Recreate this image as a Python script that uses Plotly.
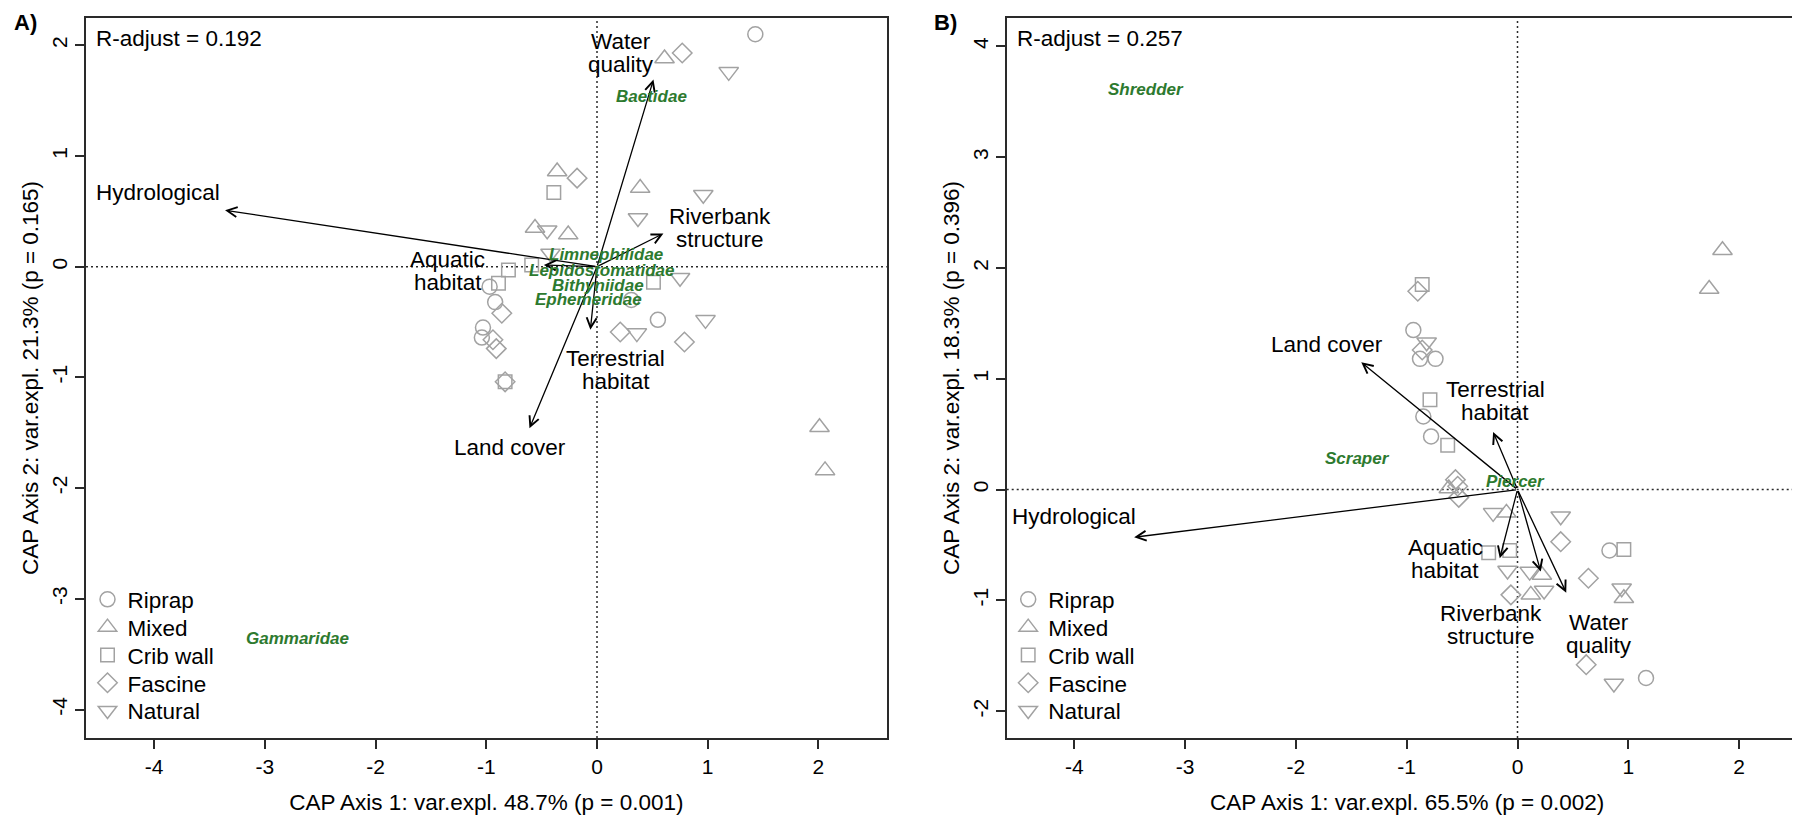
import plotly.graph_objects as go

W, H = 1800, 815
FONT = "Liberation Sans, Arial, sans-serif"

# ---------------- data ----------------
treatments = ["Riprap", "Mixed", "Crib wall", "Fascine", "Natural"]

# Panel A: site scores
a_riprap_x = [1.43, -0.97, -0.92, 0.31, 0.55, -1.03, -1.04]
a_riprap_y = [2.10, -0.18, -0.32, -0.30, -0.48, -0.55, -0.64]
a_mixed_x = [0.61, -0.36, 0.39, -0.56, -0.26, 2.01, 2.06]
a_mixed_y = [1.88, 0.86, 0.71, 0.35, 0.29, -1.45, -1.84]
a_crib_x = [-0.39, -0.80, -0.59, -0.89, 0.51, -0.83]
a_crib_y = [0.67, -0.03, 0.015, -0.15, -0.14, -1.04]
a_fascine_x = [0.77, -0.18, -0.86, -0.94, -0.91, -0.83, 0.21, 0.79]
a_fascine_y = [1.93, 0.80, -0.42, -0.66, -0.74, -1.04, -0.59, -0.68]
a_natural_x = [1.19, 0.37, 0.96, -0.45, -0.42, 0.75, 0.98, 0.36]
a_natural_y = [1.76, 0.44, 0.65, 0.33, 0.12, -0.10, -0.48, -0.60]

# Panel A: environmental vectors
a_env = ["Water\nquality", "Hydrological", "Riverbank\nstructure",
         "Aquatic\nhabitat", "Terrestrial\nhabitat", "Land cover"]
a_arrow_x = [0.51, -3.36, 0.60, -0.48, -0.06, -0.61]
a_arrow_y = [1.69, 0.51, 0.30, 0.015, -0.57, -1.46]
a_label_x = [0.22, -3.97, 1.11, -1.35, 0.17, -0.79]
a_label_y = [1.93, 0.67, 0.35, -0.04, -0.93, -1.63]

# Panel A: taxa
a_taxa = ["Baetidae", "Limnephilidae", "Lepidostomatidae", "Bithyniidae",
          "Ephemeridae", "Gammaridae"]
a_taxa_x = [0.49, 0.08, 0.04, 0.01, -0.08, -2.71]
a_taxa_y = [1.54, 0.11, -0.03, -0.17, -0.30, -3.36]

# Panel B: site scores
b_riprap_x = [-0.94, -0.88, -0.74, -0.85, -0.78, 0.83, 1.16]
b_riprap_y = [1.44, 1.18, 1.18, 0.66, 0.48, -0.55, -1.70]
b_mixed_x = [1.85, 1.73, -0.62, -0.10, 0.22, 0.12, 0.96]
b_mixed_y = [2.16, 1.81, 0.01, -0.21, -0.77, -0.95, -0.98]
b_crib_x = [-0.86, -0.79, -0.63, -0.26, -0.07, 0.96]
b_crib_y = [1.85, 0.81, 0.40, -0.57, -0.55, -0.54]
b_fascine_x = [-0.90, -0.86, -0.56, -0.54, -0.53, 0.39, 0.64, -0.06, 0.62]
b_fascine_y = [1.79, 1.26, 0.09, 0.03, -0.07, -0.47, -0.80, -0.95, -1.58]
b_natural_x = [-0.82, -0.22, 0.39, -0.09, 0.11, 0.24, 0.94, 0.87]
b_natural_y = [1.33, -0.21, -0.24, -0.73, -0.74, -0.91, -0.89, -1.75]

# Panel B: environmental vectors
b_env = ["Land cover", "Terrestrial\nhabitat", "Hydrological",
         "Aquatic\nhabitat", "Riverbank\nstructure", "Water\nquality"]
b_arrow_x = [-1.41, -0.22, -3.46, -0.16, 0.21, 0.44]
b_arrow_y = [1.15, 0.52, -0.43, -0.62, -0.74, -0.93]
b_label_x = [-1.72, -0.20, -4.00, -0.65, -0.24, 0.74]
b_label_y = [1.31, 0.80, -0.245, -0.63, -1.22, -1.30]

# Panel B: feeding guilds
b_guild = ["Shredder", "Scraper", "Piercer"]
b_guild_x = [-3.35, -1.44, -0.02]
b_guild_y = [3.61, 0.28, 0.07]

a_xtitle = "CAP Axis 1: var.expl. 48.7% (p = 0.001)"
a_ytitle = "CAP Axis 2: var.expl. 21.3% (p = 0.165)"
b_xtitle = "CAP Axis 1: var.expl. 65.5% (p = 0.002)"
b_ytitle = "CAP Axis 2: var.expl. 18.3% (p = 0.396)"
a_radj = "R-adjust = 0.192"
b_radj = "R-adjust = 0.257"

a_xticks = [-4, -3, -2, -1, 0, 1, 2]
a_yticks = [-4, -3, -2, -1, 0, 1, 2]
b_xticks = [-4, -3, -2, -1, 0, 1, 2]
b_yticks = [-2, -1, 0, 1, 2, 3, 4]

# ---------------- style ----------------
SYM = {"Riprap": "circle-open", "Mixed": "triangle-up-open",
       "Crib wall": "square-open", "Fascine": "diamond-open",
       "Natural": "triangle-down-open"}
SIZE = {"Riprap": 15, "Mixed": 17, "Crib wall": 13.5, "Fascine": 15, "Natural": 17}
GREY = "#a2a2a2"
GREEN = "#2d7a2f"
AX = "#2a2a2a"

# page body has an 8px margin: figure px = screen px - OFF
OFF = 8.0
# screen-pixel layout of the two boxes
A_X0, A_X1 = 86.0, 886.7
B_X0, B_X1 = 1006.7, 1807.7
Y_TOP, Y_BOT = 18.0, 738.0
A_ZX, A_ZY, A_U = 597.0, 266.7, 110.7
B_ZX, B_ZY, B_U = 1517.5, 489.6, 110.8
LEG_ROWS = [600.0, 627.8, 655.6, 683.4, 711.2]   # legend row centres (screen px)

fig = go.Figure()

a_sets = [(a_riprap_x, a_riprap_y), (a_mixed_x, a_mixed_y), (a_crib_x, a_crib_y),
          (a_fascine_x, a_fascine_y), (a_natural_x, a_natural_y)]
b_sets = [(b_riprap_x, b_riprap_y), (b_mixed_x, b_mixed_y), (b_crib_x, b_crib_y),
          (b_fascine_x, b_fascine_y), (b_natural_x, b_natural_y)]

leg_layouts = {}
leg_common = dict(xanchor="left", yanchor="top", bgcolor="rgba(0,0,0,0)", borderwidth=0,
                  font=dict(family=FONT, size=22.5, color="black"), tracegroupgap=0)


def legend_name(k):
    return "legend" if k == 1 else "legend%d" % k


k = 1
for panel, sets, xa, ya, lx in [("A", a_sets, "x", "y", A_X0 + 1.5),
                                ("B", b_sets, "x2", "y2", B_X0 + 1.5)]:
    for i, (name, (xs, ys)) in enumerate(zip(treatments, sets)):
        ln = legend_name(k)
        fig.add_trace(go.Scatter(x=xs, y=ys, mode="markers", name=name,
                                 marker=dict(symbol=SYM[name], size=SIZE[name], color=GREY,
                                             line=dict(width=1.5, color=GREY)),
                                 xaxis=xa, yaxis=ya, legend=ln, hoverinfo="skip"))
        top = LEG_ROWS[i] - 21.8 - OFF
        leg_layouts[ln] = dict(x=(lx - OFF) / W, y=1 - top / H, **leg_common)
        k += 1

ann = []
LS = 23  # line spacing of two-line labels (px)


def add_vectors(xr, yr, vx, vy, labels, lx, ly):
    for x, y in zip(vx, vy):
        ann.append(dict(x=x, y=y, ax=0, ay=0, xref=xr, yref=yr, axref=xr, ayref=yr,
                        text="", showarrow=True, arrowhead=5, arrowsize=1.5,
                        arrowwidth=1.3, arrowcolor="black", standoff=0, startstandoff=0))
    for lab, x, y in zip(labels, lx, ly):
        lines = lab.split("\n")
        n = len(lines)
        for i, ln in enumerate(lines):
            ann.append(dict(x=x, y=y, xref=xr, yref=yr, text=ln, showarrow=False,
                            xanchor="center", yanchor="middle",
                            yshift=((n - 1) / 2 - i) * LS,
                            font=dict(family=FONT, size=22.5, color="black")))


def add_taxa(xr, yr, names, tx, ty):
    for t, x, y in zip(names, tx, ty):
        ann.append(dict(x=x, y=y, xref=xr, yref=yr, text=t, showarrow=False,
                        xanchor="center", yanchor="middle",
                        font=dict(family=FONT, size=17, color=GREEN,
                                  weight="bold", style="italic")))


add_vectors("x", "y", a_arrow_x, a_arrow_y, a_env, a_label_x, a_label_y)
add_taxa("x", "y", a_taxa, a_taxa_x, a_taxa_y)
add_vectors("x2", "y2", b_arrow_x, b_arrow_y, b_env, b_label_x, b_label_y)
add_taxa("x2", "y2", b_guild, b_guild_x, b_guild_y)

# R-adjust texts
for xr, yr, txt in [("x domain", "y domain", a_radj), ("x2 domain", "y2 domain", b_radj)]:
    ann.append(dict(x=0, y=1, xref=xr, yref=yr, text=txt, showarrow=False,
                    xanchor="left", yanchor="middle", xshift=8, yshift=-20,
                    font=dict(family=FONT, size=22.5, color="black")))

# panel tags
for tag, sx in [("<b>A)</b>", 12.0), ("<b>B)</b>", 931.7)]:
    ann.append(dict(x=(sx - OFF) / W, y=1 - (22.5 - OFF) / H, xref="paper", yref="paper",
                    text=tag, showarrow=False, xanchor="left", yanchor="middle",
                    font=dict(family=FONT, size=22, color="black")))

# dotted zero lines
shapes = []
for xr, yr in [("x", "y"), ("x2", "y2")]:
    shapes.append(dict(type="line", xref=xr, yref=yr + " domain", x0=0, x1=0, y0=0, y1=1,
                       line=dict(color=AX, width=1.5, dash="2px,3px"), layer="below"))
    shapes.append(dict(type="line", xref=xr + " domain", yref=yr, x0=0, x1=1, y0=0, y1=0,
                       line=dict(color=AX, width=1.5, dash="2px,3px"), layer="below"))


def tick_text(v):
    return [str(t) for t in v]


def xaxis(domain, rng, ticks, title, anchor):
    return dict(domain=domain, range=rng, tickvals=ticks, ticktext=tick_text(ticks),
                anchor=anchor, showline=True, mirror=True, linecolor=AX, linewidth=1.6,
                ticks="outside", ticklen=9, tickwidth=1.5, tickcolor=AX,
                showgrid=False, zeroline=False, automargin=False,
                tickfont=dict(family=FONT, size=21, color="black"),
                title=dict(text=title, standoff=17,
                           font=dict(family=FONT, size=22.5, color="black")))


def yaxis(domain, rng, ticks, title, anchor, mirror):
    return dict(domain=domain, range=rng, tickvals=ticks, ticktext=tick_text(ticks),
                anchor=anchor, showline=True, mirror=mirror, linecolor=AX, linewidth=1.6,
                ticks="outside", ticklen=9, tickwidth=1.5, tickcolor=AX, tickangle=-90,
                showgrid=False, zeroline=False, automargin=False,
                tickfont=dict(family=FONT, size=21, color="black"),
                title=dict(text=title, standoff=3,
                           font=dict(family=FONT, size=22.5, color="black")))


ydom = [1 - (Y_BOT - OFF) / H, 1 - (Y_TOP - OFF) / H]
a_xr = [(A_X0 - A_ZX) / A_U, (A_X1 - A_ZX) / A_U]
a_yr = [(A_ZY - Y_BOT) / A_U, (A_ZY - Y_TOP) / A_U]
b_xr = [(B_X0 - B_ZX) / B_U, (min(B_X1 - OFF, W) + OFF - B_ZX) / B_U]
b_yr = [(B_ZY - Y_BOT) / B_U, (B_ZY - Y_TOP) / B_U]

fig.update_layout(
    width=W, height=H, margin=dict(l=0, r=0, t=0, b=0),
    paper_bgcolor="white", plot_bgcolor="white", template="none",
    font=dict(family=FONT, color="black"),
    xaxis=xaxis([(A_X0 - OFF) / W, (A_X1 - OFF) / W], a_xr, a_xticks, a_xtitle, "y"),
    yaxis=yaxis(ydom, a_yr, a_yticks, a_ytitle, "x", True),
    xaxis2=xaxis([(B_X0 - OFF) / W, min(B_X1 - OFF, W) / W], b_xr, b_xticks, b_xtitle, "y2"),
    yaxis2=yaxis(ydom, b_yr, b_yticks, b_ytitle, "x2", False),
    annotations=ann, shapes=shapes, showlegend=True,
    **leg_layouts,
)

fig.write_html("out.html")
